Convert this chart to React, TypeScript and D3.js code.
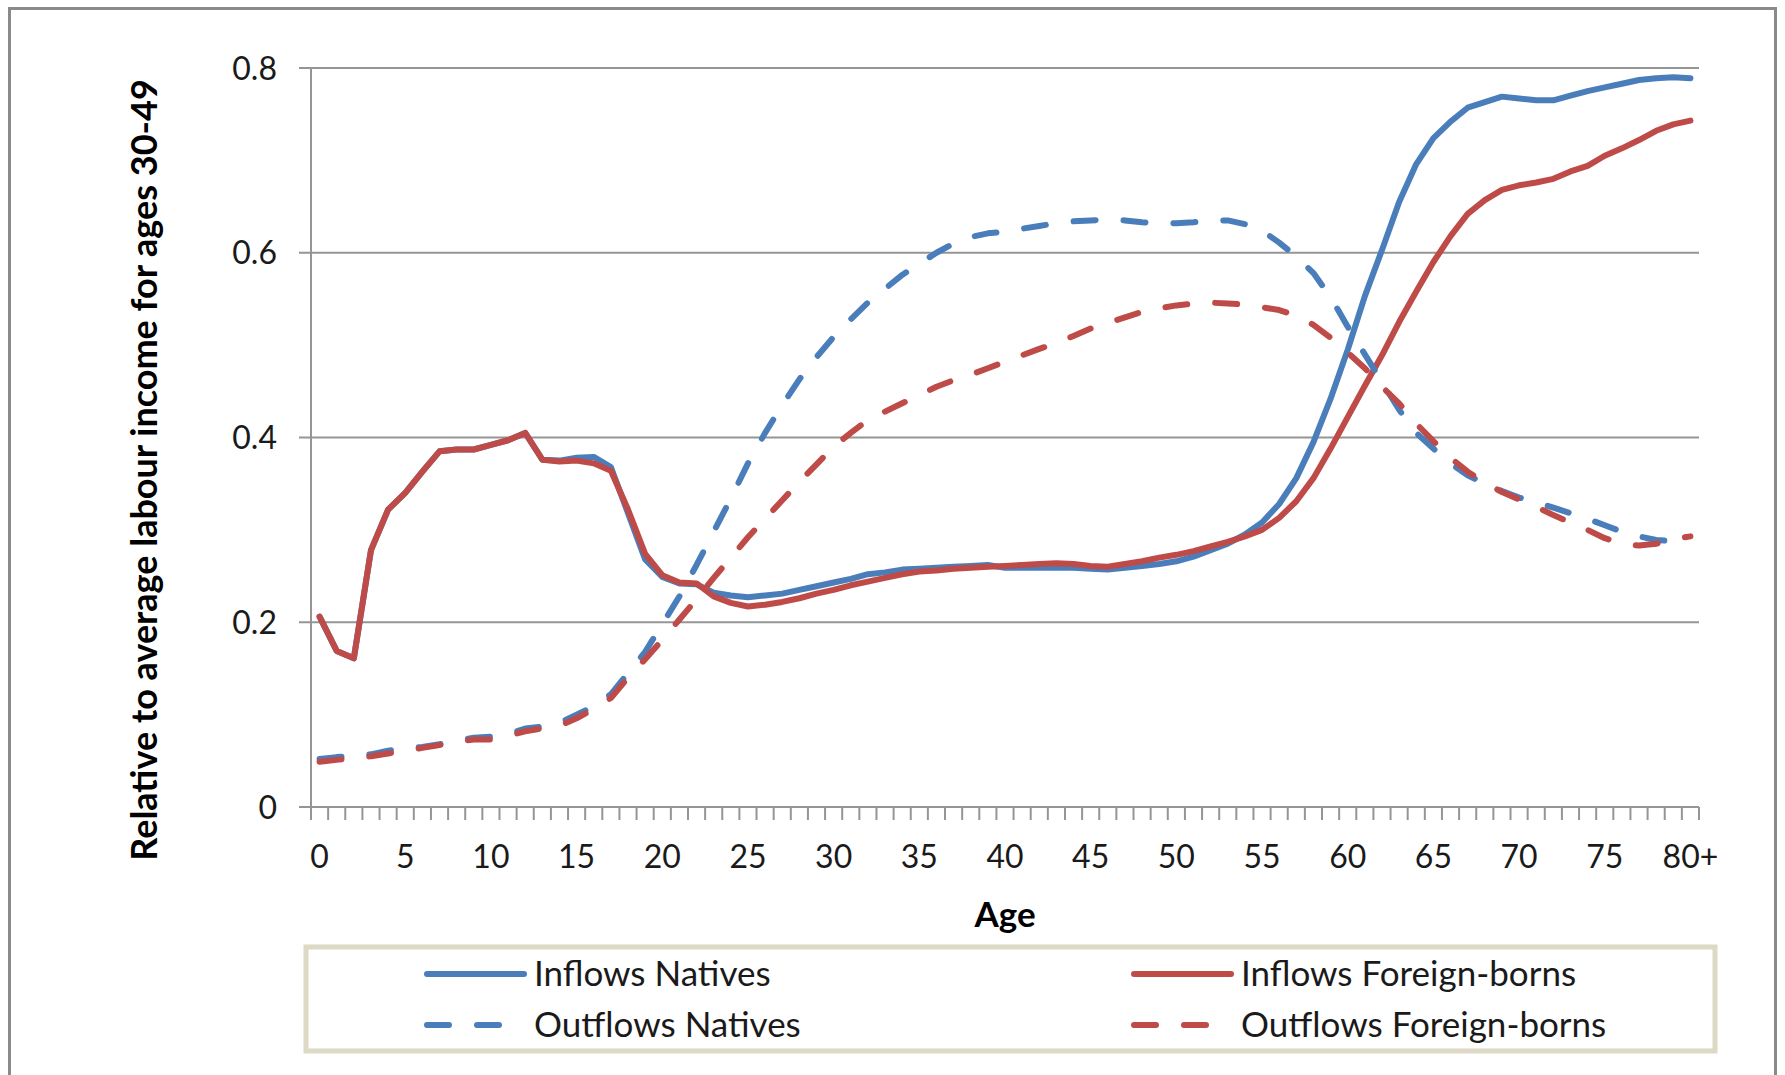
import React, { useEffect, useRef } from 'react';
import * as d3 from 'd3';

// Age categories 0..79 and the open-ended 80+ group
const ages: string[] = d3.range(80).map(String).concat(['80+']);

const inflowsNatives = [
    0.206, 0.169, 0.161, 0.278, 0.322, 0.340, 0.363, 0.385, 0.387, 0.387,
    0.392, 0.397, 0.405, 0.376, 0.375, 0.378, 0.379, 0.368, 0.318, 0.268,
    0.249, 0.242, 0.241, 0.232, 0.229, 0.227, 0.229, 0.231, 0.235, 0.239,
    0.243, 0.247, 0.252, 0.254, 0.257, 0.258, 0.259, 0.260, 0.261, 0.262,
    0.259, 0.259, 0.259, 0.259, 0.259, 0.258, 0.257, 0.259, 0.261, 0.263,
    0.266, 0.271, 0.278, 0.285, 0.295, 0.308, 0.328, 0.356, 0.395, 0.442,
    0.495, 0.553, 0.603, 0.655, 0.696, 0.724, 0.742, 0.757, 0.763, 0.769,
    0.767, 0.765, 0.765, 0.770, 0.775, 0.779, 0.783, 0.787, 0.789, 0.790,
    0.789,
];

const inflowsForeign = [
    0.206, 0.169, 0.161, 0.278, 0.322, 0.340, 0.363, 0.385, 0.387, 0.387,
    0.392, 0.397, 0.405, 0.376, 0.374, 0.375, 0.372, 0.364, 0.322, 0.274,
    0.251, 0.243, 0.242, 0.228, 0.221, 0.217, 0.219, 0.222, 0.226, 0.231,
    0.235, 0.240, 0.244, 0.248, 0.252, 0.255, 0.256, 0.258, 0.259, 0.260,
    0.261, 0.262, 0.263, 0.264, 0.263, 0.261, 0.260, 0.263, 0.266, 0.270,
    0.273, 0.277, 0.282, 0.287, 0.293, 0.300, 0.313, 0.331, 0.356, 0.388,
    0.422, 0.456, 0.489, 0.525, 0.558, 0.590, 0.618, 0.642, 0.657, 0.668,
    0.673, 0.676, 0.680, 0.688, 0.694, 0.705, 0.713, 0.722, 0.732, 0.739,
    0.743,
];

const outflowsNatives = [
    0.052, 0.054, 0.055, 0.057, 0.061, 0.063, 0.065, 0.068, 0.072, 0.075,
    0.076, 0.079, 0.085, 0.087, 0.091, 0.100, 0.109, 0.122, 0.145, 0.168,
    0.198, 0.228, 0.262, 0.298, 0.334, 0.372, 0.405, 0.435, 0.463, 0.487,
    0.509, 0.528, 0.546, 0.561, 0.576, 0.588, 0.600, 0.610, 0.617, 0.621,
    0.623, 0.626, 0.629, 0.632, 0.634, 0.635, 0.636, 0.635, 0.633, 0.632,
    0.632, 0.633, 0.635, 0.635, 0.631, 0.624, 0.611, 0.596, 0.578, 0.552,
    0.520, 0.490, 0.460, 0.430, 0.405, 0.388, 0.372, 0.359, 0.350, 0.342,
    0.335, 0.330, 0.324, 0.318, 0.312, 0.305, 0.298, 0.293, 0.289, 0.288,
    0.287,
];

const outflowsForeign = [
    0.049, 0.051, 0.053, 0.055, 0.058, 0.061, 0.064, 0.067, 0.071, 0.073,
    0.073, 0.077, 0.082, 0.085, 0.088, 0.096, 0.106, 0.118, 0.140, 0.160,
    0.181, 0.203, 0.225, 0.248, 0.270, 0.292, 0.312, 0.332, 0.352, 0.371,
    0.390, 0.405, 0.419, 0.428, 0.437, 0.446, 0.455, 0.462, 0.468, 0.475,
    0.482, 0.489, 0.496, 0.502, 0.510, 0.518, 0.524, 0.530, 0.536, 0.540,
    0.543, 0.545, 0.546, 0.545, 0.544, 0.541, 0.538, 0.532, 0.522, 0.508,
    0.492, 0.475, 0.455, 0.437, 0.415, 0.396, 0.378, 0.363, 0.351, 0.341,
    0.333, 0.325, 0.316, 0.308, 0.300, 0.291, 0.285, 0.283, 0.285, 0.290,
    0.293,
];

const yTicks = [0, 0.2, 0.4, 0.6, 0.8];
const yTickLabels = ['0', '0.2', '0.4', '0.6', '0.8'];
const xTickLabels = ['0', '5', '10', '15', '20', '25', '30', '35', '40', '45', '50', '55', '60', '65', '70', '75', '80+'];

const BLUE = '#4A7EBB';
const RED = '#BE4B48';

const seriesList = [
    { name: 'Inflows Natives', values: inflowsNatives, color: BLUE, dashed: false },
    { name: 'Inflows Foreign-borns', values: inflowsForeign, color: RED, dashed: false },
    { name: 'Outflows Natives', values: outflowsNatives, color: BLUE, dashed: true },
    { name: 'Outflows Foreign-borns', values: outflowsForeign, color: RED, dashed: true },
];

export default function App() {
    const svgRef = useRef<SVGSVGElement | null>(null);

    useEffect(() => {
        if (!svgRef.current) return;
        const width = 1785;
        const height = 1075;
        const plot = { left: 311, right: 1699, top: 68, bottom: 807 };
        const font = 'Lato, "Open Sans", sans-serif';
        const gridColor = '#959595';
        const dash = '22,28';
        const lineWidth = 6;

        const svg = d3.select(svgRef.current);
        svg.selectAll('*').remove();
        svg.attr('width', width).attr('height', height);

        svg.append('rect').attr('width', width).attr('height', height).attr('fill', '#ffffff');

        // outer chart border (runs off the bottom of the picture)
        svg.append('rect')
            .attr('x', 9.5).attr('y', 8.5)
            .attr('width', 1766).attr('height', 1100)
            .attr('fill', 'none')
            .attr('stroke', '#8a8a8a')
            .attr('stroke-width', 3);

        const x = d3.scaleBand<string>().domain(ages).range([plot.left, plot.right]).padding(0);
        const y = d3.scaleLinear().domain([0, 0.8]).range([plot.bottom, plot.top]);
        const cx = (i: number) => (x(ages[i]) as number) + x.bandwidth() / 2;

        // horizontal grid lines with the outer tick stubs
        svg.append('g')
            .selectAll('line')
            .data(yTicks)
            .enter()
            .append('line')
            .attr('x1', plot.left - 12).attr('x2', plot.right)
            .attr('y1', d => y(d)).attr('y2', d => y(d))
            .attr('stroke', gridColor).attr('stroke-width', 2);

        // y axis line
        svg.append('line')
            .attr('x1', plot.left).attr('x2', plot.left)
            .attr('y1', plot.top).attr('y2', plot.bottom)
            .attr('stroke', gridColor).attr('stroke-width', 2);

        // x category boundary ticks
        const boundaries = ages.map(a => x(a) as number).concat([plot.right]);
        svg.append('g')
            .selectAll('line')
            .data(boundaries)
            .enter()
            .append('line')
            .attr('x1', d => d).attr('x2', d => d)
            .attr('y1', plot.bottom).attr('y2', plot.bottom + 13)
            .attr('stroke', gridColor).attr('stroke-width', 2);

        // y tick labels
        svg.append('g')
            .selectAll('text')
            .data(yTicks)
            .enter()
            .append('text')
            .attr('x', 277)
            .attr('y', d => y(d))
            .attr('dy', '0.36em')
            .attr('text-anchor', 'end')
            .style('font-family', font)
            .style('font-size', '32px')
            .style('fill', '#1a1a1a')
            .text((_, i) => yTickLabels[i]);

        // x tick labels every 5 years
        svg.append('g')
            .selectAll('text')
            .data(xTickLabels)
            .enter()
            .append('text')
            .attr('x', d => (x(d) as number) + x.bandwidth() / 2)
            .attr('y', 868)
            .attr('text-anchor', 'middle')
            .style('font-family', font)
            .style('font-size', '32px')
            .style('fill', '#1a1a1a')
            .text(d => d);

        // axis titles
        svg.append('text')
            .attr('x', (plot.left + plot.right) / 2)
            .attr('y', 927)
            .attr('text-anchor', 'middle')
            .style('font-family', font)
            .style('font-size', '35px')
            .style('font-weight', 'bold')
            .style('fill', '#000')
            .text('Age');

        svg.append('text')
            .attr('transform', 'translate(157,470) rotate(-90)')
            .attr('text-anchor', 'middle')
            .style('font-family', font)
            .style('font-size', '36px')
            .style('font-weight', 'bold')
            .style('fill', '#000')
            .text('Relative to average labour income for ages 30-49');

        // series lines
        const line = d3.line<number>()
            .x((_, i) => cx(i))
            .y(d => y(d))
            .curve(d3.curveLinear);

        seriesList.forEach(s => {
            svg.append('path')
                .datum(s.values)
                .attr('fill', 'none')
                .attr('stroke', s.color)
                .attr('stroke-width', lineWidth)
                .attr('stroke-linejoin', 'round')
                .attr('stroke-linecap', 'round')
                .attr('stroke-dasharray', s.dashed ? dash : null)
                .attr('d', line);
        });

        // legend
        const legend = svg.append('g');
        legend.append('rect')
            .attr('x', 306).attr('y', 947)
            .attr('width', 1409).attr('height', 104)
            .attr('fill', '#ffffff')
            .attr('stroke', '#DDD9C4')
            .attr('stroke-width', 5);

        const cols = [424, 1131];
        const rows = [974, 1025];
        seriesList.forEach((s, i) => {
            const lx = cols[i % 2];
            const ly = rows[Math.floor(i / 2)];
            legend.append('line')
                .attr('x1', lx + 3)
                .attr('x2', s.dashed ? lx + 78 : lx + 100)
                .attr('y1', ly).attr('y2', ly)
                .attr('stroke', s.color)
                .attr('stroke-width', lineWidth)
                .attr('stroke-linecap', 'round')
                .attr('stroke-dasharray', s.dashed ? dash : null);
            legend.append('text')
                .attr('x', lx + 110)
                .attr('y', ly + 12)
                .style('font-family', font)
                .style('font-size', '35px')
                .style('fill', '#1a1a1a')
                .text(s.name);
        });
    }, []);

    return (
        <div style={{ position: 'absolute', left: 0, top: 0 }}>
            <svg ref={svgRef} style={{ display: 'block' }} />
        </div>
    );
}
